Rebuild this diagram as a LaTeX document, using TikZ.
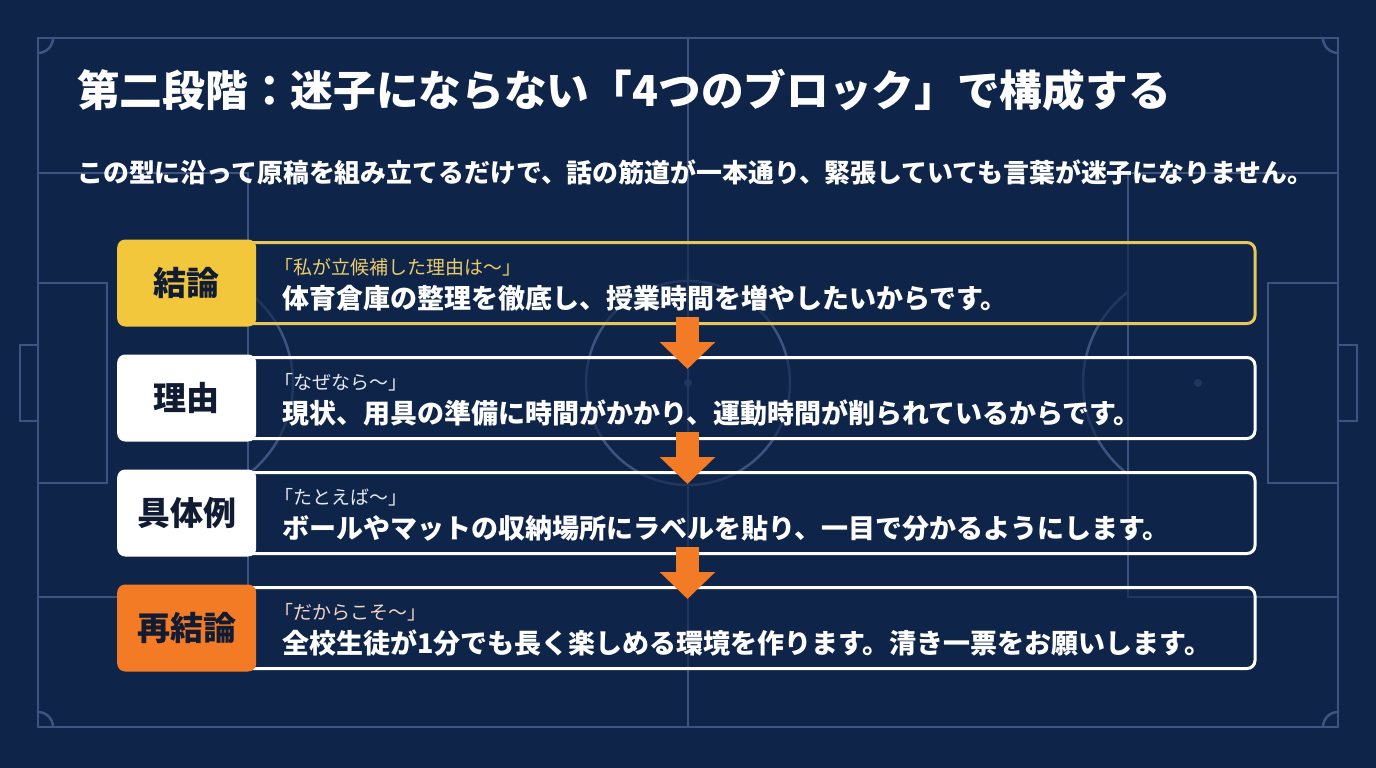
\documentclass[tikz,border=0pt]{standalone}
\usepackage{fontspec}
\setmainfont{Noto Sans CJK JP}
\usetikzlibrary{arrows.meta}
\definecolor{navy}{HTML}{0F2449}
\definecolor{pitch}{HTML}{3E5480}
\definecolor{tagyellow}{HTML}{F2C73C}
\definecolor{rimyellow}{HTML}{E8C75A}
\definecolor{tagorange}{HTML}{F47B25}
\definecolor{ink}{HTML}{111C33}
\definecolor{leadyellow}{HTML}{EBCB6A}
\definecolor{leadpeach}{HTML}{F3D6C6}
\definecolor{leadgrey}{HTML}{E6E9F0}

\begin{document}
\begin{tikzpicture}[x=1pt,y=-1pt,
    field/.style={draw=pitch, line width=2.5pt},
    frame/.style={draw, line width=3pt, rounded corners=8pt, fill=navy, fill opacity=0.6,
        minimum width=1135pt, minimum height=81pt},
    tag/.style={rounded corners=8pt, minimum width=139pt, minimum height=87pt, inner sep=0pt,
        text=ink, font=\bfseries\fontsize{33}{38}\selectfont},
    lead/.style={anchor=west, inner sep=0pt, font=\fontsize{19}{22}\selectfont},
    body/.style={anchor=west, inner sep=0pt, text=white, font=\bfseries\fontsize{27}{32}\selectfont},
    flow/.style={draw=tagorange, line width=23pt, -{Triangle[width=54pt,length=27pt]}}]
    \fill[navy] (0,0) rectangle (1376,768);
    \useasboundingbox (0,0) rectangle (1376,768);
    % pitch
    \draw[field] (38,38) rectangle (1338,727);
    \draw[field] (688,38) -- (688,727);
    \draw[field] (688,383) circle (102);
    \fill[pitch] (688,383) circle (4);
    \draw[field] (38,173) rectangle (248,597);
    \draw[field] (1128,173) rectangle (1338,597);
    \draw[field] (38,283) rectangle (107,483);
    \draw[field] (1268,283) rectangle (1338,483);
    \draw[field] (20,345) rectangle (38,421);
    \draw[field] (1338,345) rectangle (1357,421);
    \foreach \x in {178,1198} {
        \fill[pitch] (\x,383) circle (4);
    }
    \draw[field] (178,383) ++(-52.5:115) arc[start angle=-52.5, end angle=52.5, radius=115];
    \draw[field] (1198,383) ++(127.5:115) arc[start angle=127.5, end angle=232.5, radius=115];
    \draw[field] (53,38) arc[start angle=0, end angle=90, radius=15];
    \draw[field] (1323,38) arc[start angle=180, end angle=90, radius=15];
    \draw[field] (53,727) arc[start angle=0, end angle=-90, radius=15];
    \draw[field] (1323,727) arc[start angle=180, end angle=270, radius=15];

    % heading
    \node[anchor=west, inner sep=0pt, text=white, font=\bfseries\fontsize{42.7}{50}\selectfont] (title) at (77,90)
        {第二段階：迷子にならない「4つのブロック」で構成する};
    \node[anchor=west, inner sep=0pt, text=white, font=\bfseries\fontsize{25.9}{30}\selectfont] (intro) at (77,172)
        {この型に沿って原稿を組み立てるだけで、話の筋道が一本通り、緊張していても言葉が迷子になりません。};

    % blocks
    \node[frame, draw=rimyellow] (b1) at (687.5,283) {};
    \node[frame, draw=white] (b2) at (687.5,398) {};
    \node[frame, draw=white] (b3) at (687.5,513) {};
    \node[frame, draw=white] (b4) at (687.5,628) {};

    \node[tag, fill=tagyellow, anchor=west, xshift=-1.5pt] (l1) at (b1.west) {結論};
    \node[tag, fill=white, anchor=west, xshift=-1.5pt] (l2) at (b2.west) {理由};
    \node[tag, fill=white, anchor=west, xshift=-1.5pt] (l3) at (b3.west) {具体例};
    \node[tag, fill=tagorange, anchor=west, xshift=-1.5pt] (l4) at (b4.west) {再結論};

    \node[lead, text=leadyellow] (s1) at (274,267) {「私が立候補した理由は～」};
    \node[body] (t1) at (282,298) {体育倉庫の整理を徹底し、授業時間を増やしたいからです。};
    \node[lead, text=leadgrey] (s2) at (274,382) {「なぜなら～」};
    \node[body] (t2) at (282,413) {現状、用具の準備に時間がかかり、運動時間が削られているからです。};
    \node[lead, text=leadgrey] (s3) at (274,497) {「たとえば～」};
    \node[body] (t3) at (282,528) {ボールやマットの収納場所にラベルを貼り、一目で分かるようにします。};
    \node[lead, text=leadpeach] (s4) at (274,612) {「だからこそ～」};
    \node[body] (t4) at (282,643) {全校生徒が1分でも長く楽しめる環境を作ります。清き一票をお願いします。};

    % arrows
    \draw[flow] ([yshift=8pt]b1.south) -- ([yshift=-13pt]b2.north);
    \draw[flow] ([yshift=8pt]b2.south) -- ([yshift=-13pt]b3.north);
    \draw[flow] ([yshift=8pt]b3.south) -- ([yshift=-13pt]b4.north);
\end{tikzpicture}
\end{document}
